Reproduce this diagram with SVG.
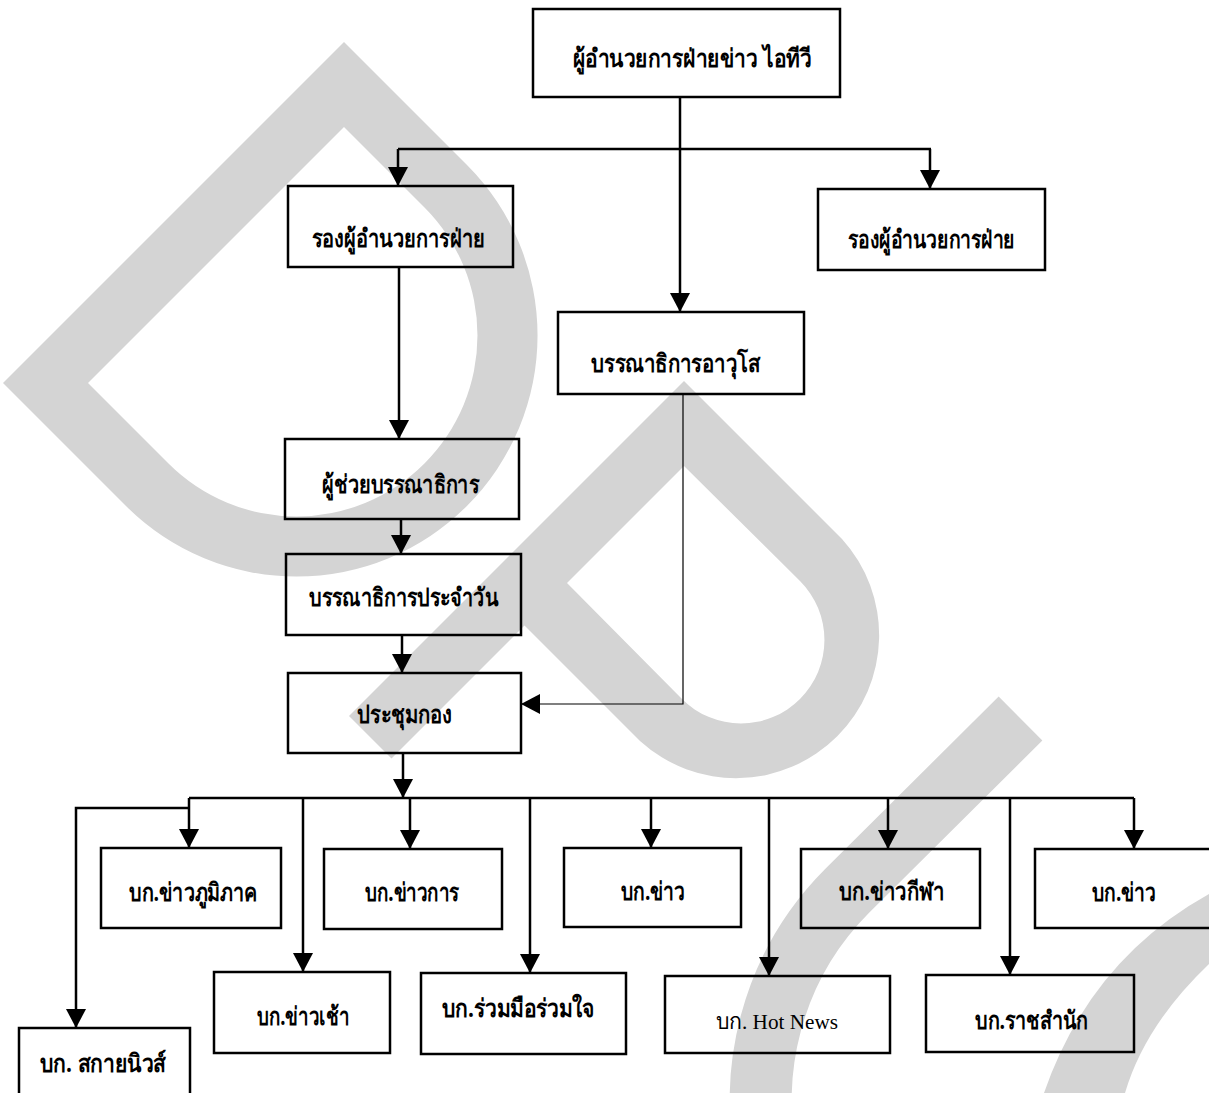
<svg xmlns="http://www.w3.org/2000/svg" width="1209" height="1093" viewBox="0 0 1209 1093">
<style>
.wm{fill:#d4d4d4;stroke:none}
.wms{fill:none;stroke:#d4d4d4;stroke-width:62}
.box{fill:none;stroke:#000;stroke-width:2.5}
.ln{fill:none;stroke:#000;stroke-width:2.5}
.thin{fill:none;stroke:#000;stroke-width:1.2}
.t{font-family:"Noto Sans","DejaVu Sans",sans-serif;font-size:25px;font-weight:bold;fill:#000;text-anchor:middle}
.ts{font-family:"Liberation Serif","Noto Sans",serif;font-size:22px;fill:#000;text-anchor:middle}
</style>
<defs>
<marker id="ah" markerUnits="userSpaceOnUse" viewBox="0 0 19 20" refX="19" refY="10" markerWidth="19" markerHeight="20" orient="auto">
<path d="M0,0 L19,10 L0,20 Z" fill="#000"/>
</marker>
</defs>
<rect width="1209" height="1093" fill="#fff"/>
<g id="watermark">
<path class="wm" fill-rule="evenodd" d="M3,383 L344,42 L467,165 A241 241 0 0 1 126,506 Z M344,127 L424.5,207.5 A181 181 0 0 1 168.5,463.5 L88,383 Z"/>
<path class="wm" fill-rule="evenodd" d="M349,716 L684,381 L842,539 A143 143 0 0 1 640,741 L524.5,625.5 L391.5,758.5 Z M684,466 L800,581 A83 83 0 0 1 682,699 L567,583 Z"/>
<path class="wms" d="M1020.5,718.5 L847,891 A295 295 0 0 0 771,1176"/>
<path class="wm" d="M1209,894 L1209,964 Q1145,1025 1125,1093 L1044,1093 Q1090,960 1209,894 Z"/>
</g>
<g id="connectors">
<path class="ln" d="M680,97 V312" marker-end="url(#ah)"/>
<path class="ln" d="M398,149 H931"/>
<path class="ln" d="M398,149 V186" marker-end="url(#ah)"/>
<path class="ln" d="M930,149 V189" marker-end="url(#ah)"/>
<path class="ln" d="M399,267 V439" marker-end="url(#ah)"/>
<path class="ln" d="M401,519 V554" marker-end="url(#ah)"/>
<path class="ln" d="M402,635 V673" marker-end="url(#ah)"/>
<path class="thin" d="M683,394 V704 H521" marker-end="url(#ah)"/>
<path class="ln" d="M403,753 V798" marker-end="url(#ah)"/>
<path class="ln" d="M189,798 H1134"/>
<path class="ln" d="M189,798 V848" marker-end="url(#ah)"/>
<path class="ln" d="M189,808 H76 V1028" marker-end="url(#ah)"/>
<path class="ln" d="M303,798 V972" marker-end="url(#ah)"/>
<path class="ln" d="M410,798 V849" marker-end="url(#ah)"/>
<path class="ln" d="M530,798 V973" marker-end="url(#ah)"/>
<path class="ln" d="M651,798 V848" marker-end="url(#ah)"/>
<path class="ln" d="M769,798 V976" marker-end="url(#ah)"/>
<path class="ln" d="M888,798 V849" marker-end="url(#ah)"/>
<path class="ln" d="M1010,798 V975" marker-end="url(#ah)"/>
<path class="ln" d="M1134,798 V849" marker-end="url(#ah)"/>
</g>
<g id="n-director"><rect class="box" x="533" y="9" width="307" height="88"/><text class="t" x="692" y="67" textLength="239" lengthAdjust="spacingAndGlyphs">ผู้อำนวยการฝ่ายข่าว ไอทีวี</text></g>
<g id="n-deputy-left"><rect class="box" x="288" y="186" width="225" height="81"/><text class="t" x="398.5" y="247" textLength="173" lengthAdjust="spacingAndGlyphs">รองผู้อำนวยการฝ่าย</text></g>
<g id="n-deputy-right"><rect class="box" x="818" y="189" width="227" height="81"/><text class="t" x="931.5" y="248" textLength="167" lengthAdjust="spacingAndGlyphs">รองผู้อำนวยการฝ่าย</text></g>
<g id="n-senior-editor"><rect class="box" x="558" y="312" width="246" height="82"/><text class="t" x="675.5" y="372" textLength="169" lengthAdjust="spacingAndGlyphs">บรรณาธิการอาวุโส</text></g>
<g id="n-assistant-editor"><rect class="box" x="285" y="439" width="234" height="80"/><text class="t" x="400.5" y="493" textLength="157" lengthAdjust="spacingAndGlyphs">ผู้ช่วยบรรณาธิการ</text></g>
<g id="n-daily-editor"><rect class="box" x="286" y="554" width="235" height="81"/><text class="t" x="403.5" y="606" textLength="189" lengthAdjust="spacingAndGlyphs">บรรณาธิการประจำวัน</text></g>
<g id="n-meeting"><rect class="box" x="288" y="673" width="233" height="80"/><text class="t" x="404.5" y="723" textLength="95" lengthAdjust="spacingAndGlyphs">ประชุมกอง</text></g>
<g id="n-regional"><rect class="box" x="101" y="848" width="180" height="80"/><text class="t" x="193" y="901" textLength="128" lengthAdjust="spacingAndGlyphs">บก.ข่าวภูมิภาค</text></g>
<g id="n-skynews"><rect class="box" x="19" y="1028" width="171" height="70"/><text class="t" x="103" y="1072" textLength="126" lengthAdjust="spacingAndGlyphs">บก. สกายนิวส์</text></g>
<g id="n-morning"><rect class="box" x="214" y="972" width="176" height="81"/><text class="t" x="303" y="1025" textLength="92" lengthAdjust="spacingAndGlyphs">บก.ข่าวเช้า</text></g>
<g id="n-gov"><rect class="box" x="324" y="849" width="178" height="80"/><text class="t" x="412" y="901" textLength="94" lengthAdjust="spacingAndGlyphs">บก.ข่าวการ</text></g>
<g id="n-cooperation"><rect class="box" x="421" y="973" width="205" height="81"/><text class="t" x="518.5" y="1017" textLength="153" lengthAdjust="spacingAndGlyphs">บก.ร่วมมือร่วมใจ</text></g>
<g id="n-news1"><rect class="box" x="564" y="848" width="177" height="79"/><text class="t" x="653" y="900" textLength="64" lengthAdjust="spacingAndGlyphs">บก.ข่าว</text></g>
<g id="n-hotnews"><rect class="box" x="665" y="976" width="225" height="77"/><text class="ts" x="777" y="1029" textLength="122" lengthAdjust="spacingAndGlyphs">บก. Hot News</text></g>
<g id="n-sports"><rect class="box" x="801" y="849" width="179" height="79"/><text class="t" x="891.5" y="900" textLength="105" lengthAdjust="spacingAndGlyphs">บก.ข่าวกีฬา</text></g>
<g id="n-royal"><rect class="box" x="926" y="975" width="208" height="77"/><text class="t" x="1031.5" y="1029" textLength="113" lengthAdjust="spacingAndGlyphs">บก.ราชสำนัก</text></g>
<g id="n-news2"><rect class="box" x="1035" y="849" width="180" height="79"/><text class="t" x="1124" y="901" textLength="64" lengthAdjust="spacingAndGlyphs">บก.ข่าว</text></g>
</svg>
